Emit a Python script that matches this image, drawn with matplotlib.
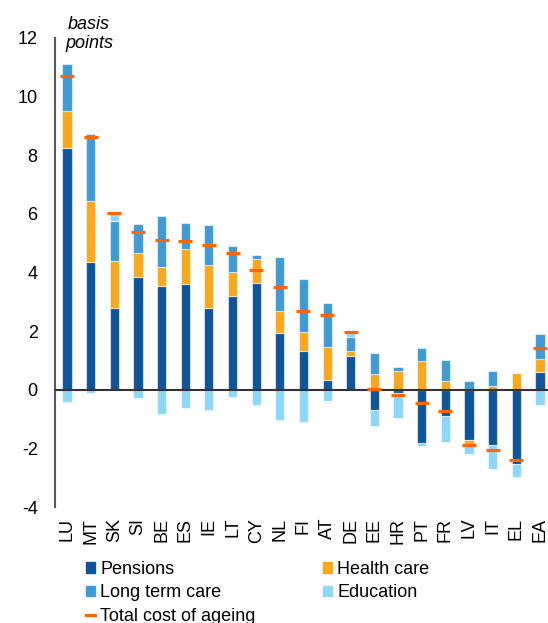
import numpy as np
import matplotlib.pyplot as plt
from matplotlib.patches import Patch
from matplotlib.lines import Line2D

plt.rcParams['font.family'] = ['Liberation Sans', 'DejaVu Sans']
plt.rcParams['axes.unicode_minus'] = False

countries = ['LU', 'MT', 'SK', 'SI', 'BE', 'ES', 'IE', 'LT', 'CY', 'NL', 'FI',
             'AT', 'DE', 'EE', 'HR', 'PT', 'FR', 'LV', 'IT', 'EL', 'EA']

# change in spending, basis points
pensions = [8.24, 4.36, 2.79, 3.84, 3.53, 3.61, 2.78, 3.21, 3.63, 1.95, 1.34,
            0.35, 1.17, -0.67, -0.09, -1.82, -0.87, -1.70, -1.88, -2.51, 0.62]
health = [1.28, 2.09, 1.59, 0.84, 0.65, 1.20, 1.47, 0.80, 0.82, 0.74, 0.64,
          1.11, 0.16, 0.56, 0.65, 0.99, 0.31, -0.15, 0.15, 0.57, 0.45]
ltc = [1.58, 2.27, 1.38, 0.96, 1.74, 0.89, 1.37, 0.89, 0.14, 1.85, 1.81,
       1.49, 0.48, 0.70, 0.13, 0.45, 0.72, 0.30, 0.50, 0.00, 0.85]
education = [-0.40, -0.10, 0.26, -0.27, -0.82, -0.61, -0.67, -0.25, -0.50, -1.02, -1.10,
             -0.39, 0.18, -0.56, -0.85, -0.08, -0.89, -0.33, -0.81, -0.45, -0.50]

series = [
    ('Pensions', pensions, '#10559a'),
    ('Health care', health, '#f9a81b'),
    ('Long term care', ltc, '#409bd4'),
    ('Education', education, '#8dd8f8'),
]
total_color = '#ff6600'

x = np.arange(len(countries))
total = np.sum([np.array(s[1]) for s in series], axis=0)

fig = plt.figure(figsize=(5.48, 6.23), dpi=100)
ax = fig.add_axes([55 / 548, 1 - 507.4 / 623, 493 / 548, (507.4 - 37.7) / 623])

# stack positives upwards and negatives downwards
pos_base = np.zeros(len(x))
neg_base = np.zeros(len(x))
for name, vals, color in series:
    v = np.array(vals)
    bottom = np.where(v >= 0, pos_base, neg_base)
    ax.bar(x, v, 0.39, bottom=bottom, color=color,
           edgecolor=(1, 1, 1, 0.55), linewidth=0.8, zorder=2)
    pos_base += np.clip(v, 0, None)
    neg_base += np.clip(v, None, 0)

ax.axhline(0, color='#333333', lw=1.5, zorder=3)
ax.plot(x, total, ls='none', marker='_', ms=9.5, mew=2.3,
        color=total_color, zorder=4)

ax.set_xlim(-0.507, 20.34)
ax.set_ylim(-4, 12)
ax.set_yticks(range(-4, 13, 2))
ax.set_xticks(x)
ax.set_xticklabels(countries, rotation=90)
ax.tick_params(axis='both', length=0, labelsize=13, colors='black')
ax.tick_params(axis='y', pad=12.5)
ax.tick_params(axis='x', pad=7.5)
for side in ['top', 'right', 'bottom']:
    ax.spines[side].set_visible(False)
ax.spines['left'].set_color('#595959')
ax.spines['left'].set_linewidth(1.5)

fig.text(89 / 548, 1 - 34 / 623, 'basis\npoints', ha='center', va='center',
         style='italic', fontsize=13, linespacing=1.15)

handles = [
    Patch(color=series[0][2]), Patch(color=series[2][2]),
    Line2D([], [], color=total_color, lw=2.3),
    Patch(color=series[1][2]), Patch(color=series[3][2]),
]
labels = ['Pensions', 'Long term care', 'Total cost of ageing',
          'Health care', 'Education']
fig.legend(handles, labels, loc='upper left', bbox_to_anchor=(86 / 548, 1 - 561 / 623),
           ncol=2, frameon=False, fontsize=13, borderaxespad=0, borderpad=0,
           handlelength=0.5, handleheight=0.5, handletextpad=0.28,
           columnspacing=3.75, labelspacing=0.35)

fig.savefig('out.png', dpi=100)
